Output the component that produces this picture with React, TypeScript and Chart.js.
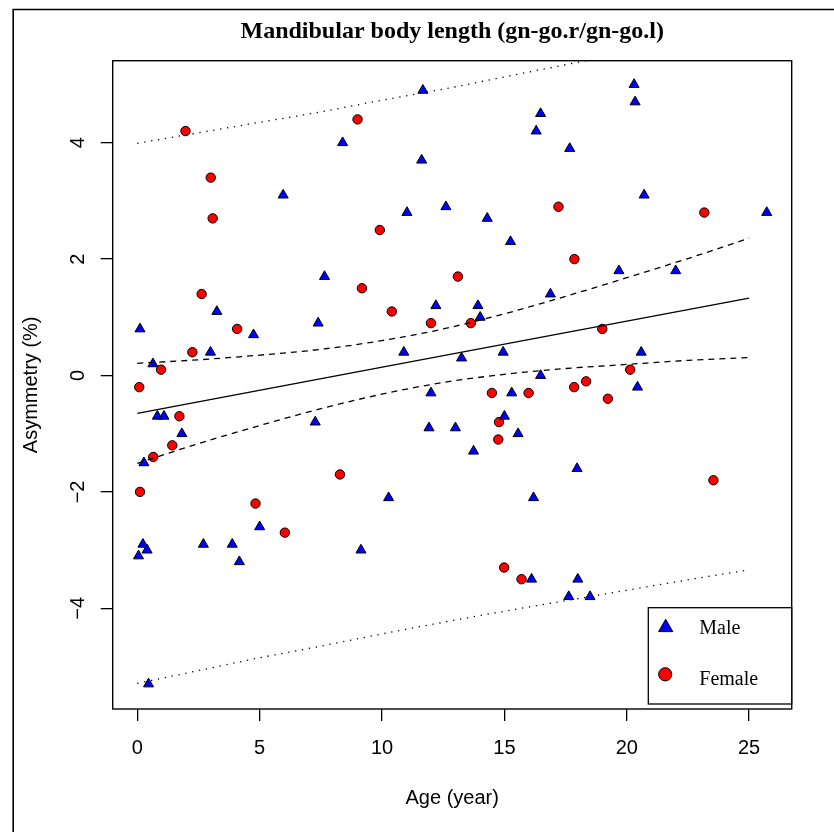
import React, { useEffect, useRef } from "react";
import { Chart, registerables } from "chart.js";

Chart.register(...registerables);

// ---- data ----
const maleAge = [
  0.11, 0.64, 0.82, 1.09, 1.82, 0.27, 2.99, 3.25, 4.75, 7.39, 7.27, 5.96, 7.65, 8.39,
  0.23, 0.4, 0.05, 2.7, 3.88, 4.17, 5.0, 0.46, 9.14, 10.27, 10.89, 11.02, 11.67, 11.62,
  12.2, 12.0, 11.92, 12.61, 13.25, 13.0, 13.74, 13.92, 14.01, 14.3, 14.95, 15.0, 15.25,
  15.3, 15.56, 16.19, 16.11, 16.3, 16.48, 16.48, 16.88, 17.67, 17.63, 17.97, 18.0, 18.5,
  19.68, 20.3, 20.34, 20.71, 20.59, 20.44, 22.0, 25.72,
];
const maleAsym = [
  0.8, 0.2, -0.7, -0.7, -1.0, -1.5, 0.4, 1.1, 0.7, 0.9, -0.8, 3.1, 1.7, 4.0,
  -2.9, -3.0, -3.1, -2.9, -2.9, -3.2, -2.6, -5.3, -3.0, -2.1, 0.4, 2.8, 4.9, 3.7,
  1.2, -0.3, -0.9, 2.9, 0.3, -0.9, -1.3, 1.2, 1.0, 2.7, 0.4, -0.7, 2.3,
  -0.3, -1.0, -2.1, -3.5, 4.2, 4.5, 0.0, 1.4, 3.9, -3.8, -1.6, -3.5, -3.8,
  1.8, 5.0, 4.7, 3.1, 0.4, -0.2, 1.8, 2.8,
];
const femaleAge = [
  0.08, 0.11, 1.97, 3.0, 3.08, 2.63, 0.97, 2.25, 4.08, 1.72, 1.43, 0.65, 4.83, 6.03,
  8.28, 9.0, 9.91, 9.18, 10.4, 12.0, 13.1, 13.63, 14.49, 14.78, 14.75, 14.99, 15.7,
  15.99, 17.21, 17.86, 17.85, 18.34, 19.0, 19.23, 20.14, 23.17, 23.54,
];
const femaleAsym = [
  -0.2, -2.0, 4.2, 3.4, 2.7, 1.4, 0.1, 0.4, 0.8, -0.7, -1.2, -1.4, -2.2, -2.7,
  -1.7, 4.4, 2.5, 1.5, 1.1, 0.9, 1.7, 0.9, -0.3, -0.8, -1.1, -3.3, -3.5,
  -0.3, 2.9, 2.0, -0.2, -0.1, 0.8, -0.4, 0.1, 2.8, -1.8,
];

const fitAge = [0, 25];
const fitAsym = [-0.65, 1.33];

const bandAge = [0, 2.5, 5, 7.5, 10, 12.5, 15, 17.5, 20, 22.5, 25];
const ciUpper = [0.21, 0.27, 0.35, 0.45, 0.6, 0.8, 1.06, 1.36, 1.68, 2.01, 2.36];
const ciLower = [-1.51, -1.17, -0.86, -0.57, -0.32, -0.12, 0.02, 0.12, 0.19, 0.26, 0.31];
const piUpper = [3.99, 4.17, 4.35, 4.53, 4.73, 4.92, 5.13, 5.34, 5.55, 5.78, 6.0];
const piLower = [-5.29, -5.07, -4.85, -4.65, -4.44, -4.24, -4.05, -3.87, -3.69, -3.51, -3.34];

const xTicks = [0, 5, 10, 15, 20, 25];
const xTickLabels = ["0", "5", "10", "15", "20", "25"];
const yTicks = [-4, -2, 0, 2, 4];
const yTickLabels = ["\u22124", "\u22122", "0", "2", "4"];

const titleText = "Mandibular body length (gn-go.r/gn-go.l)";
const xTitle = "Age (year)";
const yTitle = "Asymmetry (%)";
const legendLabels = ["Male", "Female"];

const W = 834;
const H = 832;
const SANS = "'Liberation Sans', Arial, sans-serif";
const SERIF = "'Liberation Serif', 'Times New Roman', serif";

const zip = (xs: number[], ys: number[]) => xs.map((x, i) => ({ x, y: ys[i] }));

const overlay = {
  id: "overlay",
  afterDraw(chart: any) {
    const { ctx, chartArea: ca, scales } = chart;
    ctx.save();
    ctx.strokeStyle = "#000";
    ctx.fillStyle = "#000";

    // outer frame (left and top edges)
    ctx.lineWidth = 1.6;
    ctx.beginPath();
    ctx.moveTo(13.2, H);
    ctx.lineTo(13.2, 9.5);
    ctx.lineTo(W, 9.5);
    ctx.stroke();

    // plot box
    ctx.lineWidth = 1.4;
    ctx.strokeRect(ca.left, ca.top, ca.right - ca.left, ca.bottom - ca.top);

    // x tick labels
    ctx.font = `20px ${SANS}`;
    ctx.textAlign = "center";
    ctx.textBaseline = "alphabetic";
    xTicks.forEach((v, i) => {
      ctx.fillText(xTickLabels[i], scales.x.getPixelForValue(v), 753.5);
    });
    // y tick labels (rotated)
    yTicks.forEach((v, i) => {
      ctx.save();
      ctx.translate(83.5, scales.y.getPixelForValue(v));
      ctx.rotate(-Math.PI / 2);
      ctx.fillText(yTickLabels[i], 0, 0);
      ctx.restore();
    });

    // axis titles
    ctx.fillText(xTitle, (ca.left + ca.right) / 2, 804);
    ctx.save();
    ctx.translate(37, (ca.top + ca.bottom) / 2);
    ctx.rotate(-Math.PI / 2);
    ctx.fillText(yTitle, 0, 0);
    ctx.restore();

    // main title
    ctx.font = `bold 24px ${SERIF}`;
    ctx.fillText(titleText, (ca.left + ca.right) / 2, 38);

    // legend
    const lx = 648.3, ly = 607.7, lw = ca.right - 648.3, lh = 704 - 607.7;
    ctx.fillStyle = "#fff";
    ctx.fillRect(lx, ly, lw, lh);
    ctx.lineWidth = 1.3;
    ctx.strokeRect(lx, ly, lw, lh);

    // triangle symbol
    const tr = 8.2, tx = 665.7, ty = 627.5;
    ctx.beginPath();
    for (let k = 0; k < 3; k++) {
      const a = (k * 2 * Math.PI) / 3;
      const px = tx + Math.sin(a) * tr;
      const py = ty - Math.cos(a) * tr;
      if (k === 0) ctx.moveTo(px, py);
      else ctx.lineTo(px, py);
    }
    ctx.closePath();
    ctx.fillStyle = "#0000ff";
    ctx.fill();
    ctx.lineWidth = 1;
    ctx.strokeStyle = "#000";
    ctx.stroke();

    // circle symbol
    ctx.beginPath();
    ctx.arc(665.2, 674.3, 6.6, 0, Math.PI * 2);
    ctx.fillStyle = "#ff0000";
    ctx.fill();
    ctx.stroke();

    ctx.fillStyle = "#000";
    ctx.font = `20px ${SERIF}`;
    ctx.textAlign = "left";
    ctx.fillText(legendLabels[0], 699.3, 634);
    ctx.fillText(legendLabels[1], 699.3, 685);

    ctx.restore();
  },
};

export default function App() {
  const ref = useRef<HTMLCanvasElement | null>(null);

  useEffect(() => {
    if (!ref.current) return;
    const lineDs = (data: any[], dash: number[], order = 0) => ({
      type: "line" as const,
      data,
      showLine: true,
      borderColor: "#000",
      borderWidth: 1.3,
      borderDash: dash,
      pointRadius: 0,
      fill: false,
      cubicInterpolationMode: "monotone" as const,
      clip: 0,
      order,
    });

    const chart = new Chart(ref.current, {
      type: "scatter",
      data: {
        datasets: [
          lineDs(zip(fitAge, fitAsym), []),
          lineDs(zip(bandAge, ciUpper), [6, 5]),
          lineDs(zip(bandAge, ciLower), [6, 5]),
          lineDs(zip(bandAge, piUpper), [1.3, 5.7]),
          lineDs(zip(bandAge, piLower), [1.3, 5.7]),
          {
            label: "Male",
            data: zip(maleAge, maleAsym),
            pointStyle: "triangle",
            pointRadius: 5.8,
            backgroundColor: "#0000ff",
            borderColor: "#000",
            borderWidth: 1,
            order: 1,
          } as any,
          {
            label: "Female",
            data: zip(femaleAge, femaleAsym),
            pointStyle: "circle",
            pointRadius: 4.7,
            backgroundColor: "#ff0000",
            borderColor: "#000",
            borderWidth: 1,
            order: 1,
          } as any,
        ],
      },
      options: {
        animation: false,
        responsive: false,
        events: [],
        layout: { padding: { left: 0, top: 60.7, right: W - 791.7, bottom: 0 } },
        plugins: { legend: { display: false }, tooltip: { enabled: false }, title: { display: false } },
        scales: {
          x: {
            type: "linear",
            position: "bottom",
            min: -1.005,
            max: 26.74,
            afterBuildTicks: (s: any) => {
              s.ticks = xTicks.map((v) => ({ value: v }));
            },
            afterFit: (s: any) => {
              s.height = H - 709;
            },
            ticks: { display: false },
            border: { display: false },
            grid: {
              display: true,
              drawOnChartArea: false,
              drawTicks: true,
              tickLength: 12,
              color: "#000",
              lineWidth: 1.3,
            },
          },
          y: {
            type: "linear",
            position: "left",
            min: -5.73,
            max: 5.409,
            afterBuildTicks: (s: any) => {
              s.ticks = yTicks.map((v) => ({ value: v }));
            },
            afterFit: (s: any) => {
              s.width = 112.7;
            },
            ticks: { display: false },
            border: { display: false },
            grid: {
              display: true,
              drawOnChartArea: false,
              drawTicks: true,
              tickLength: 12,
              color: "#000",
              lineWidth: 1.3,
            },
          },
        },
      } as any,
      plugins: [overlay],
    });
    return () => chart.destroy();
  }, []);

  return (
    <div style={{ position: "absolute", left: 0, top: 0, width: W, height: H, overflow: "hidden", background: "#fff" }}>
      <canvas ref={ref} width={W} height={H} style={{ display: "block", width: W, height: H }} />
    </div>
  );
}
